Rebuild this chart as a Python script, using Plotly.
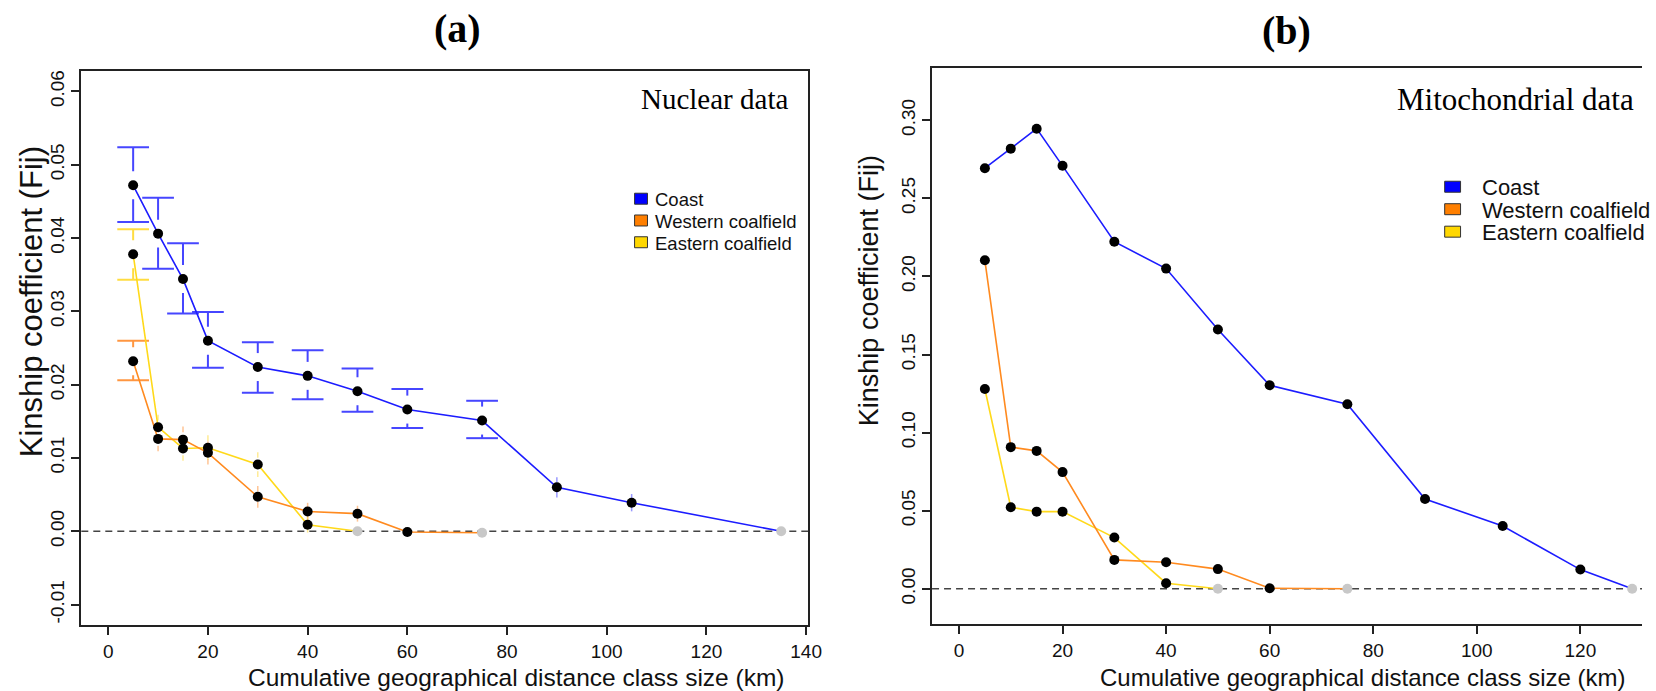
import plotly.graph_objects as go

W, H = 1656, 691

# ---------------- data: (a) nuclear kinship ----------------
dist_a_coast = [5, 10, 15, 20, 30, 40, 50, 60, 75, 90, 105, 135]
fij_a_coast = [0.0472, 0.0406, 0.0344, 0.0260, 0.0224, 0.0212, 0.0191, 0.0166, 0.0151, 0.0060, 0.0039, 0.0]
hi_a_coast = [0.0524, 0.0455, 0.0393, 0.0299, 0.0258, 0.0247, 0.0222, 0.0194, 0.0178, 0.0070, 0.0047, None]
lo_a_coast = [0.0422, 0.0358, 0.0297, 0.0223, 0.0189, 0.0180, 0.0163, 0.0141, 0.0127, 0.0050, 0.0031, None]

dist_a_west = [5, 10, 15, 20, 30, 40, 50, 60, 75]
fij_a_west = [0.0232, 0.0126, 0.0125, 0.0107, 0.0047, 0.0027, 0.0024, -0.0001, -0.0002]
hi_a_west = [0.0260, 0.0139, 0.0139, 0.0119, 0.0058, 0.0035, 0.0031, None, None]
lo_a_west = [0.0206, 0.0113, 0.0111, 0.0095, 0.0036, 0.0019, 0.0017, None, None]

dist_a_east = [5, 10, 15, 20, 30, 40, 50]
fij_a_east = [0.0378, 0.0142, 0.0113, 0.0114, 0.0091, 0.0009, 0.0]
hi_a_east = [0.0412, 0.0155, 0.0126, 0.0127, 0.0104, 0.0016, None]
lo_a_east = [0.0343, 0.0129, 0.0100, 0.0101, 0.0078, 0.0002, None]

# ---------------- data: (b) mitochondrial kinship ----------------
dist_b_coast = [5, 10, 15, 20, 30, 40, 50, 60, 75, 90, 105, 120, 130]
fij_b_coast = [0.2693, 0.2818, 0.2946, 0.2708, 0.2222, 0.2050, 0.1660, 0.1303, 0.1181, 0.0575, 0.0402, 0.0123, 0.0]

dist_b_west = [5, 10, 15, 20, 30, 40, 50, 60, 75]
fij_b_west = [0.2103, 0.0907, 0.0883, 0.0747, 0.0185, 0.0170, 0.0126, 0.0004, 0.0]

dist_b_east = [5, 10, 15, 20, 30, 40, 50]
fij_b_east = [0.1279, 0.0522, 0.0494, 0.0494, 0.0328, 0.0036, 0.0]

# ---------------- axes ticks ----------------
xticks_a = [0, 20, 40, 60, 80, 100, 120, 140]
xticks_b = [0, 20, 40, 60, 80, 100, 120, 140]
yticks_a = [-0.01, 0.0, 0.01, 0.02, 0.03, 0.04, 0.05, 0.06]
ytext_a = ["-0.01", "0.00", "0.01", "0.02", "0.03", "0.04", "0.05", "0.06"]
yticks_b = [0.0, 0.05, 0.10, 0.15, 0.20, 0.25, 0.30]
ytext_b = ["0.00", "0.05", "0.10", "0.15", "0.20", "0.25", "0.30"]

group_names = ["Coast", "Western coalfield", "Eastern coalfield"]
line_cols = ["#1c1cff", "#ff8a1f", "#ffd91a"]
bar_cols = ["#4646ff", "#ff9640", "#ffdc40"]
fill_cols = ["#0000ff", "#ff7f00", "#ffd700"]

# ---------------- frame geometry (pixels) ----------------
A_LEFT, A_RIGHT, A_TOP, A_BOT = 82, 815, 70, 625
B_LEFT, B_TOP, B_BOT = 940, 67, 624
XR_A = [-5.4, 140.4]
YR_A = [-0.0128, 0.0628]
XR_B = [-5.2, 131.9]
YR_B = [-0.0226, 0.3335]

SANS = "Liberation Sans, Arial, sans-serif"
SERIF = "Liberation Serif, Times New Roman, serif"

fig = go.Figure()


def errbar_traces(xs, ys, his, los, color, xref, yref):
    """plotCI-style bars: caps with stems that stop short of the point."""
    px_per_x = (A_RIGHT - A_LEFT) / (XR_A[1] - XR_A[0])
    px_per_y = (A_BOT - A_TOP) / (YR_A[1] - YR_A[0])
    half_cap = 16 / px_per_x
    gap = 14 / px_per_y
    sx, sy, tx, ty = [], [], [], []
    for x, y, hi, lo in zip(xs, ys, his, los):
        for end, sgn in ((hi, 1), (lo, -1)):
            if end is None:
                continue
            if abs(end - y) > gap:
                sx += [x - half_cap, x + half_cap, None, x, x, None]
                sy += [end, end, None, end, y + sgn * gap, None]
            else:
                tx.append(x)
                ty.append(end)
    out = [go.Scatter(x=sx, y=sy, mode="lines", line=dict(color=color, width=2),
                      xaxis=xref, yaxis=yref, showlegend=False, hoverinfo="skip")]
    if tx:
        out.append(go.Scatter(x=tx, y=ty, mode="markers",
                              marker=dict(symbol="line-ns", size=4, opacity=0.55,
                                          line=dict(color=color, width=1.5)),
                              xaxis=xref, yaxis=yref, showlegend=False, hoverinfo="skip"))
    return out


# error bars for panel (a)
for (xs, ys, hi, lo), col in zip(
        [(dist_a_coast, fij_a_coast, hi_a_coast, lo_a_coast),
         (dist_a_west, fij_a_west, hi_a_west, lo_a_west),
         (dist_a_east, fij_a_east, hi_a_east, lo_a_east)], bar_cols):
    for t in errbar_traces(xs, ys, hi, lo, col, "x", "y"):
        fig.add_trace(t)

series = [
    ("x", "y", dist_a_east, fij_a_east, 2),
    ("x", "y", dist_a_west, fij_a_west, 1),
    ("x", "y", dist_a_coast, fij_a_coast, 0),
    ("x2", "y2", dist_b_east, fij_b_east, 2),
    ("x2", "y2", dist_b_west, fij_b_west, 1),
    ("x2", "y2", dist_b_coast, fij_b_coast, 0),
]

# connecting lines
for xa, ya, xs, ys, k in series:
    fig.add_trace(go.Scatter(x=xs, y=ys, mode="lines",
                             line=dict(color=line_cols[k], width=1.6),
                             xaxis=xa, yaxis=ya, showlegend=False,
                             name=group_names[k]))

# points: black, last class (non-significant) in grey
for xa, ya, xs, ys, k in series:
    cols = ["#000000"] * (len(xs) - 1) + ["#c8c8c8"]
    fig.add_trace(go.Scatter(x=xs, y=ys, mode="markers",
                             marker=dict(color=cols, size=10),
                             xaxis=xa, yaxis=ya, showlegend=False,
                             name=group_names[k]))

axis_common = dict(showgrid=False, zeroline=False, showline=True, linecolor="#222222",
                   linewidth=1.8, ticks="outside", ticklen=8, tickwidth=1.5,
                   tickcolor="#222222", tickfont=dict(family=SANS, size=19, color="#111111"))

fig.update_layout(
    width=W, height=H,
    margin=dict(l=0, r=0, t=0, b=0),
    paper_bgcolor="white", plot_bgcolor="white",
    xaxis=dict(domain=[A_LEFT / W, A_RIGHT / W], range=XR_A, tickvals=xticks_a,
               mirror=True, anchor="y", **axis_common),
    yaxis=dict(domain=[1 - A_BOT / H, 1 - A_TOP / H], range=YR_A, tickvals=yticks_a,
               ticktext=ytext_a, tickangle=-90, mirror=True, anchor="x", **axis_common),
    xaxis2=dict(domain=[B_LEFT / W, 1.0], range=XR_B, tickvals=xticks_b,
                mirror=True, anchor="y2", **axis_common),
    yaxis2=dict(domain=[1 - B_BOT / H, 1 - B_TOP / H], range=YR_B, tickvals=yticks_b,
                ticktext=ytext_b, tickangle=-90, mirror=False, anchor="x2", **axis_common),
)

# zero reference lines
for xd, ya in (("x domain", "y"), ("x2 domain", "y2")):
    fig.add_shape(type="line", xref=xd, yref=ya, x0=0, x1=1, y0=0, y1=0,
                  line=dict(color="#444444", width=1.6, dash="7px,5px"), layer="below")


def label(text, px, py, size, family=SANS, xanchor="center", angle=0, color="#111111"):
    return dict(text=text, x=px / W, y=1 - py / H, xref="paper", yref="paper",
                xanchor=xanchor, yanchor="middle", textangle=angle, showarrow=False,
                font=dict(family=family, size=size, color=color))


ann = [
    # panel letters
    label("<b>(a)</b>", 461, 28, 40, SERIF, color="black"),
    label("<b>(b)</b>", 1297, 30, 40, SERIF, color="black"),
    # data type labels
    label("Nuclear data", 797, 98, 29, SERIF, xanchor="right", color="black"),
    label("Mitochondrial data", 1650, 99, 31, SERIF, xanchor="right", color="black"),
    # axis titles
    label("Cumulative geographical distance class size (km)", 521, 677, 24.5),
    label("Cumulative geographical distance class size (km)", 1375, 677, 24),
    label("Kinship coefficient (Fij)", 32, 301, 31, angle=-90),
    label("Kinship coefficient (Fij)", 876, 290, 27, angle=-90),
]

# legends drawn as filled keys with labels
for (sq_x0, sq_x1, y0, step, sq_h, txt_x, fsize) in (
        (640, 653, 198, 21.8, 11, 659, 18.5),
        (1457, 1473, 186, 22.5, 11, 1493, 22)):
    for i, name in enumerate(group_names):
        cy = y0 + i * step
        fig.add_shape(type="rect", xref="paper", yref="paper",
                      x0=sq_x0 / W, x1=sq_x1 / W,
                      y0=1 - (cy + sq_h / 2) / H, y1=1 - (cy - sq_h / 2) / H,
                      fillcolor=fill_cols[i], line=dict(color="#333333", width=1))
        ann.append(label(name, txt_x, cy + 1, fsize, xanchor="left"))

fig.update_layout(annotations=ann)

fig.write_html("out.html")
